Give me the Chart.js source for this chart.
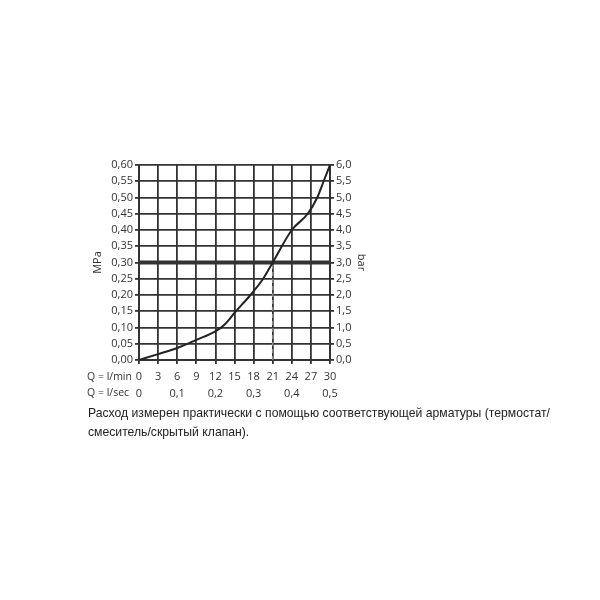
<!DOCTYPE html>
<html>
<head>
<meta charset="utf-8">
<script src="https://cdn.jsdelivr.net/npm/chart.js@4.4.1/dist/chart.umd.min.js"></script>
<style>
    body { margin: 0; background: #fff; }
    #wrap { position: relative; width: 600px; height: 600px; }
    #caption {
        position: absolute; left: 88px; top: 404px; width: 480px;
        font-family: 'Liberation Sans', Arial, sans-serif; font-size: 12.2px;
        line-height: 19px; color: #222;
    }
</style>
</head>
<body>
<div id="wrap">
    <canvas id="myChart" width="600" height="600"></canvas>
    <div id="caption">Расход измерен практически с помощью соответствующей арматуры (термостат/<br>смеситель/скрытый клапан).</div>
</div>
<script>
// flow in l/min and pressure loss in MPa
let flowLpm = [0, 3, 6, 9, 12, 13.5, 15, 17.5, 19.5, 21, 24, 26.5, 28, 29, 30];
let pressureMpa = [0, 0.018, 0.037, 0.062, 0.088, 0.11, 0.145, 0.20, 0.25, 0.30, 0.40, 0.45, 0.50, 0.55, 0.60];
let operatingPressure = 0.30;
let operatingFlow = 21;
let rowLabels = ['Q = l/min', 'Q = l/sec'];

let tickFont = { family: "'Open Sans', sans-serif", size: 11 };
let gridColor = '#333';

function comma(v, d) {
    return v.toFixed(d).replace('.', ',');
}

const rowLabelPlugin = {
    id: 'rowLabels',
    afterDraw(chart) {
        let ctx = chart.ctx;
        ctx.save();
        ctx.font = "10.5px 'Open Sans', sans-serif";
        ctx.fillStyle = '#333';
        ctx.textBaseline = 'middle';
        ctx.textAlign = 'left';
        ctx.fillText(rowLabels[0], 87, 377);
        ctx.fillText(rowLabels[1], 87, 393);
        ctx.restore();
    }
};

const ctx = document.getElementById('myChart').getContext('2d');
const myChart = new Chart(ctx, {
    type: 'scatter',
    data: {
        datasets: [{
            data: flowLpm.map((f, i) => ({ x: f, y: pressureMpa[i] })),
            showLine: true,
            borderColor: '#222',
            borderWidth: 2,
            pointRadius: 0,
            cubicInterpolationMode: 'monotone',
            order: 1
        }, {
            data: [{ x: 0, y: operatingPressure }, { x: 30, y: operatingPressure }],
            showLine: true,
            borderColor: '#333',
            borderWidth: 4,
            pointRadius: 0,
            order: 2
        }, {
            data: [{ x: operatingFlow, y: 0 }, { x: operatingFlow, y: operatingPressure }],
            showLine: true,
            borderColor: '#888',
            borderWidth: 1.5,
            borderDash: [4, 3],
            pointRadius: 0,
            order: 3
        }]
    },
    options: {
        responsive: false,
        animation: false,
        layout: { padding: { left: 89, right: 230, top: 165, bottom: 200 } },
        plugins: { legend: { display: false }, tooltip: { enabled: false } },
        scales: {
            x: {
                type: 'linear', position: 'bottom', min: 0, max: 30,
                ticks: { stepSize: 3, autoSkip: false, color: '#333', font: tickFont, padding: 6 },
                grid: { color: gridColor, lineWidth: 1.8, tickLength: 4 },
                border: { color: gridColor, width: 2 },
                afterFit(scale) { scale.height = 24; }
            },
            x2: {
                type: 'linear', position: 'bottom', min: 0, max: 0.5,
                ticks: { stepSize: 0.1, autoSkip: false, color: '#333', font: tickFont, padding: 3, callback: v => v === 0 ? '0' : comma(v, 1) },
                grid: { display: false, drawTicks: false },
                border: { display: false },
                afterFit(scale) { scale.height = 16; }
            },
            y: {
                type: 'linear', position: 'left', min: 0, max: 0.6,
                ticks: { stepSize: 0.05, autoSkip: false, color: '#333', font: tickFont, padding: 2, callback: v => comma(v, 2) },
                grid: { color: gridColor, lineWidth: 1.8, tickLength: 4 },
                border: { color: gridColor, width: 2 },
                title: { display: true, text: 'MPa', color: '#333', font: tickFont, padding: 2 },
                afterFit(scale) { scale.width = 50; }
            },
            y2: {
                type: 'linear', position: 'right', min: 0, max: 6,
                ticks: { stepSize: 0.5, autoSkip: false, color: '#333', font: tickFont, padding: 2, callback: v => comma(v, 1) },
                grid: { drawOnChartArea: false, color: gridColor, lineWidth: 1.8, tickLength: 4 },
                border: { color: gridColor, width: 2 },
                title: { display: true, text: 'bar', color: '#333', font: tickFont, padding: 2 },
                afterFit(scale) { scale.width = 40; }
            }
        }
    },
    plugins: [rowLabelPlugin]
});
</script>
</body>
</html>
